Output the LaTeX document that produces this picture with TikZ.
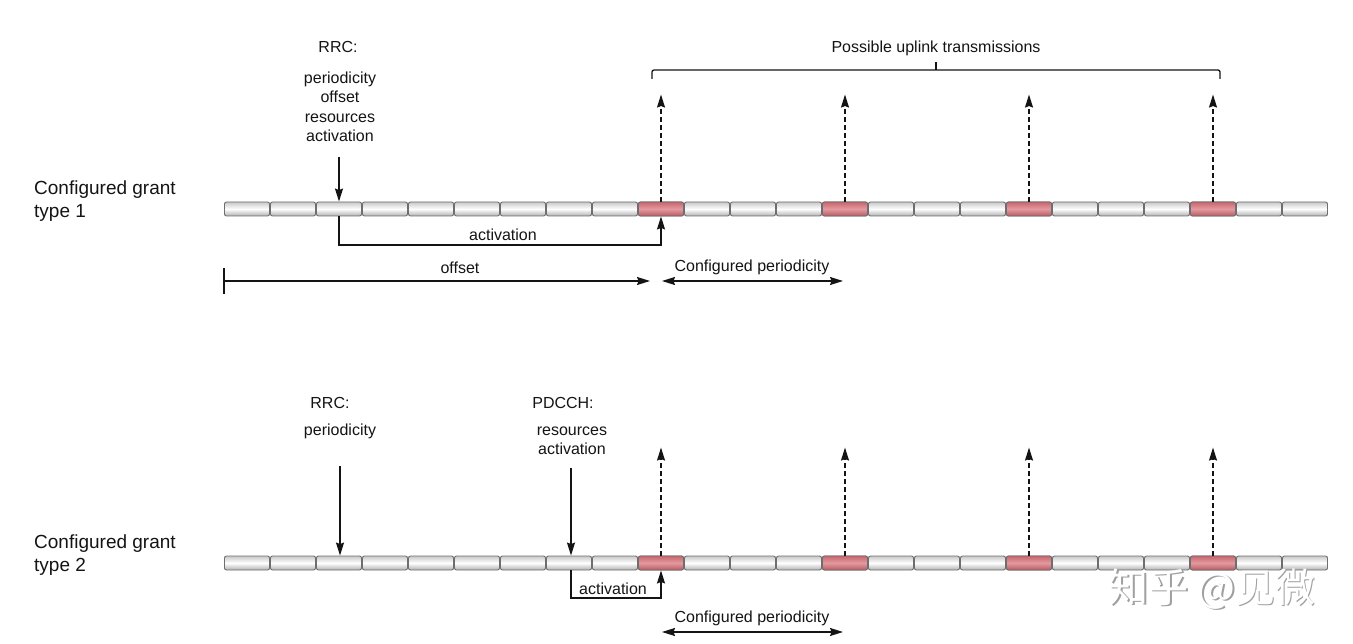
\documentclass[tikz,border=0pt]{standalone}
\usepackage{fontspec}
\setmainfont{Liberation Sans}
\newfontfamily\cjk{Noto Sans CJK SC}
\usetikzlibrary{arrows.meta}
\definecolor{slotedge}{HTML}{6E6E6E}
\definecolor{slottop}{HTML}{C8C8C8}
\definecolor{slotbot}{HTML}{B0B0B0}
\definecolor{redmid}{HTML}{E39A9F}
\definecolor{redtop}{HTML}{C9666E}
\definecolor{redbot}{HTML}{B95A62}
\definecolor{ink}{HTML}{141414}
\tikzset{
  slot/.style={draw=slotedge, line width=0.9pt, rounded corners=2pt, minimum width=45pt, minimum height=14pt, inner sep=0pt, top color=slottop, bottom color=slotbot, middle color=white},
  redslot/.style={slot, top color=redtop, bottom color=redbot, middle color=redmid},
  txt/.style={font=\fontsize{16}{19.5}\selectfont, text=ink, inner sep=1pt, align=center},
  side/.style={font=\fontsize{19}{23}\selectfont, text=ink, inner sep=0pt, align=left, anchor=west},
  tip/.tip={Stealth[length=13pt,width=8pt,inset=1.5pt]},
  arr/.style={-tip, line width=1.3pt, draw=ink},
  dblarr/.style={tip-tip, line width=1.3pt, draw=ink},
  dasharr/.style={arr, dash pattern=on 5pt off 3pt},
  plain/.style={line width=1.3pt, draw=ink},
}
\begin{document}
\begin{tikzpicture}[x=1pt,y=-1pt]
\useasboundingbox (0,0) rectangle (1353,644);

% ---------- slot bars ----------
\foreach \i in {0,...,23} {
  \node[slot] (a\i) at (224+46*\i+23,209) {};
  \node[slot] (b\i) at (224+46*\i+23,563) {};
}
\foreach \i in {9,13,17,21} {
  \node[redslot] (a\i) at (224+46*\i+23,209) {};
  \node[redslot] (b\i) at (224+46*\i+23,563) {};
}

% ---------- type 1 ----------
\node[side] (lab1) at (34,201) {Configured grant\\type 1};
\node[txt] (rrc1) at (338,47) {RRC:};
\node[txt] (par1) at (340,107) {periodicity\\offset\\resources\\activation};
\draw[arr, shorten <=14pt] (a2.north |- par1.south) -- (a2.north);

\coordinate (k1) at (340,245);
\draw[arr] (a2.south) -- (a2.south |- k1) -- (a9.south |- k1) -- (a9.south);
\node[txt, anchor=south] (act1) at (503,242) {activation};

\foreach \i in {9,13,17,21} {
  \draw[dasharr] (a\i.north) -- ([yshift=107pt]a\i.north);
}
\coordinate (br0) at (652,79);
\coordinate (br1) at (1220,79);
\coordinate (brm) at (936,70);
\draw[plain, rounded corners=2pt] (br0) -- (br0 |- brm) -- (br1 |- brm) -- (br1);
\draw[plain] (brm) -- ++(0,-8);
\node[txt] (put) at (936,48) {Possible uplink transmissions};

\coordinate (o0) at (224,281);
\coordinate (o1) at (650,281);
\draw[plain] (224,268) -- (224,294);
\draw[arr] (o0) -- (o1);
\node[txt, anchor=south] (off) at (460,275) {offset};
\coordinate (p0) at (662,281);
\coordinate (p1) at (843,281);
\draw[dblarr] (p0) -- (p1);
\node[txt, anchor=south] (cp1) at (752,276) {Configured periodicity};

% ---------- type 2 ----------
\node[side] (lab2) at (34,555) {Configured grant\\type 2};
\node[txt] (rrc2) at (330,403) {RRC:};
\node[txt] (par2) at (340,431) {periodicity};
\coordinate (d2) at (340,466);
\draw[arr] (d2) -- (d2 |- b2.north);

\node[txt] (pd) at (563,403) {PDCCH:};
\node[txt] (par3) at (572,441) {resources\\activation};
\coordinate (d3) at (571,468);
\draw[arr] (d3) -- (d3 |- b7.north);

\coordinate (k2) at (571,598);
\draw[arr] (k2 |- b7.south) -- (k2) -- (b9.south |- k2) -- (b9.south);
\node[txt, anchor=south] (act2) at (613,596) {activation};

\foreach \i in {9,13,17,21} {
  \draw[dasharr] (b\i.north) -- ([yshift=108pt]b\i.north);
}

\coordinate (q0) at (662,632);
\coordinate (q1) at (843,632);
\draw[dblarr] (q0) -- (q1);
\node[txt, anchor=south] (cp2) at (752,627) {Configured periodicity};

% ---------- watermark ----------
\node[font=\cjk\fontsize{40}{40}\selectfont, text=gray!75, anchor=west] (wm0) at (1106.5,590.5) {知乎 @见微};
\node[font=\cjk\fontsize{40}{40}\selectfont, text=white, anchor=west] (wm) at (1105,589) {知乎 @见微};
\end{tikzpicture}
\end{document}
